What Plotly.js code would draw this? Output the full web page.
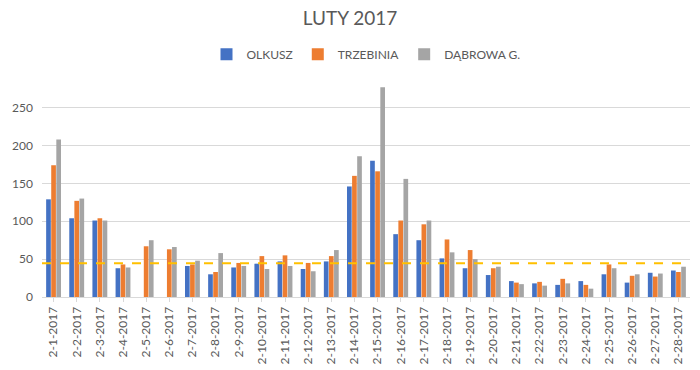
<!DOCTYPE html>
<html><head><meta charset="utf-8">
<script src="https://cdn.plot.ly/plotly-3.0.1.min.js"></script>
<style>html,body{margin:0;padding:0;background:#fff}#c{width:700px;height:370px}</style>
</head><body><div id="c"></div>
<script>
const dates = ["2-1-2017","2-2-2017","2-3-2017","2-4-2017","2-5-2017","2-6-2017","2-7-2017","2-8-2017","2-9-2017","2-10-2017","2-11-2017","2-12-2017","2-13-2017","2-14-2017","2-15-2017","2-16-2017","2-17-2017","2-18-2017","2-19-2017","2-20-2017","2-21-2017","2-22-2017","2-23-2017","2-24-2017","2-25-2017","2-26-2017","2-27-2017","2-28-2017"];
const olkusz    = [129,104,101,38,0,0,41,30,39,44,47,37,47,146,180,83,75,51,38,29,21,18,16,21,30,19,32,35];
const trzebinia = [174,127,104,43,67,63,43,33,45,54,55,45,54,160,166,101,96,76,62,38,19,20,24,16,43,28,27,33];
const dabrowa   = [208,130,101,39,75,66,48,58,41,37,41,34,62,186,277,156,101,59,50,40,17,15,18,11,38,30,31,40];
const seriesNames = ["OLKUSZ","TRZEBINIA","DĄBROWA G."];
const limitValue = 44.5;
const yTicks = [0,50,100,150,200,250];

const colors = ["#4472C4","#ED7D31","#A5A5A5"];
const vals = [olkusz, trzebinia, dabrowa];
const font = "Lato, 'Open Sans', sans-serif";
const traces = vals.map((v,i)=>({type:"bar", name:seriesNames[i], x:dates, y:v, marker:{color:colors[i]}}));

const layout = {
  width:700, height:370,
  margin:{l:42, r:10, t:85, b:73},
  paper_bgcolor:"#fff", plot_bgcolor:"#fff",
  font:{family:font, color:"#595959", size:12},
  title:{text:"LUTY 2017", x:0.5, xanchor:"center", y:0.95, yanchor:"middle", yref:"container",
         font:{family:font, size:19, color:"#595959"}},
  barmode:"group", bargap:0.34, bargroupgap:0.08,
  showlegend:true,
  legend:{orientation:"h", x:0.5, xanchor:"center", y:1.145, yanchor:"middle", yref:"paper",
          font:{family:font, size:12, color:"#595959"}, itemwidth:30, tracegroupgap:0},
  xaxis:{type:"category", tickangle:-90, tickfont:{family:font, size:12, color:"#595959"},
         showline:true, linecolor:"#d9d9d9", linewidth:1, ticks:"outside", ticklen:4, tickcolor:"#d9d9d9",
         showgrid:false, zeroline:false},
  yaxis:{range:[0,280], tickvals:yTicks, showgrid:true, gridcolor:"#d9d9d9", gridwidth:1,
         zeroline:false, showline:false, tickfont:{family:font, size:12, color:"#595959"},
         ticklabelstandoff:8},
  shapes:[{type:"line", xref:"paper", x0:0, x1:1, yref:"y", y0:limitValue, y1:limitValue,
           line:{color:"#FFC000", width:2, dash:"dash"}}]
};
Plotly.newPlot("c", traces, layout, {displayModeBar:false, staticPlot:true});
</script>
</body></html>
